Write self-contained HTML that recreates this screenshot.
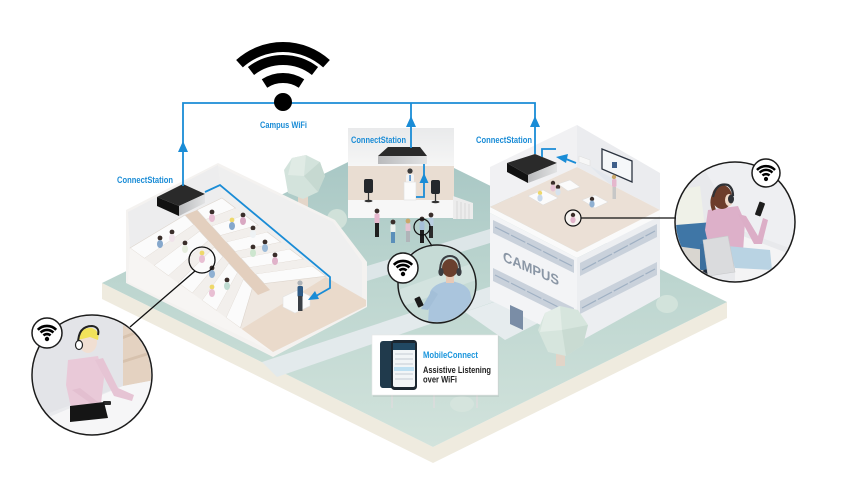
<!DOCTYPE html>
<html><head><meta charset="utf-8">
<style>html,body{margin:0;padding:0;background:#fff;width:850px;height:478px;overflow:hidden}svg{display:block}</style>
</head>
<body>
<svg width="850" height="478" viewBox="0 0 850 478" xmlns="http://www.w3.org/2000/svg" font-family="'Liberation Sans', Arial, sans-serif">
<defs>
 <linearGradient id="plate" gradientUnits="userSpaceOnUse" x1="0" y1="139" x2="0" y2="447">
  <stop offset="0" stop-color="#a5c5c3"/>
  <stop offset="0.45" stop-color="#bcd5cf"/>
  <stop offset="1" stop-color="#d2e3dc"/>
 </linearGradient>
 <linearGradient id="silver" x1="0" y1="0" x2="1" y2="0">
  <stop offset="0" stop-color="#b9babc"/><stop offset="1" stop-color="#e2e3e4"/>
 </linearGradient>
 <linearGradient id="wall" x1="0" y1="0" x2="0" y2="1">
  <stop offset="0" stop-color="#e9eaeb"/><stop offset="1" stop-color="#f6f6f6"/>
 </linearGradient>
 <clipPath id="c1"><circle cx="92" cy="375" r="59"/></clipPath>
 <clipPath id="c2"><circle cx="437" cy="284" r="38"/></clipPath>
 <clipPath id="c3"><circle cx="735" cy="222" r="59"/></clipPath>
</defs>

<!-- ground plate -->
<polygon points="102,283 433,447 727,302 727,318 433,463 102,299" fill="#efebdf"/>
<polygon points="102,283 395,139 727,302 433,447" fill="url(#plate)"/>
<!-- paths -->
<polygon points="262,362 492,286 502,299 277,377" fill="#e3eaec"/>
<polygon points="367,266 490,229 490,243 367,281" fill="#dde6e8"/>
<polygon points="465,312 500,300 540,322 505,340" fill="#e6ecee"/>

<!-- tree 1 -->
<rect x="298" y="194" width="10" height="20" fill="#e4d6c9"/>
<polygon points="284,170 292,158 306,155 320,162 325,176 318,192 303,199 288,193" fill="#d3e3dc"/>
<polygon points="292,158 306,155 304,176 288,175" fill="#e0ebe5"/>
<polygon points="304,176 320,162 325,176 318,192" fill="#c6d9d1"/>
<circle cx="337" cy="219" r="10" fill="#d0e1d9"/>

<!-- STAGE -->
<rect x="348" y="128" width="106" height="39" fill="url(#wall)"/>
<rect x="348" y="166" width="106" height="35" fill="#e9ddd2"/>
<rect x="348" y="200" width="106" height="18" fill="#f7f7f7"/>
<polygon points="453,196 473,203 473,219 453,219" fill="#ececec"/>
<g stroke="#d5d5d5" stroke-width="0.8"><line x1="457" y1="201" x2="457" y2="219"/><line x1="461" y1="202" x2="461" y2="219"/><line x1="465" y1="203" x2="465" y2="219"/><line x1="469" y1="204" x2="469" y2="219"/></g>
<!-- speakers -->
<rect x="364" y="179" width="9" height="14" rx="2" fill="#25282c"/>
<line x1="368.5" y1="193" x2="368.5" y2="200" stroke="#333" stroke-width="1.2"/>
<ellipse cx="368.5" cy="201" rx="4" ry="1.3" fill="#333"/>
<rect x="431" y="180" width="9" height="14" rx="2" fill="#25282c"/>
<line x1="435.5" y1="194" x2="435.5" y2="201" stroke="#333" stroke-width="1.2"/>
<ellipse cx="435.5" cy="202" rx="4" ry="1.3" fill="#333"/>
<!-- podium & speaker -->
<circle cx="410" cy="171" r="2.6" fill="#3a3a3a"/>
<rect x="406" y="174" width="8" height="9" rx="2" fill="#f4f4f4"/>
<rect x="409.4" y="175" width="1.3" height="6" fill="#2b78c2"/>
<rect x="404" y="182" width="12" height="18" fill="#fbfbfb" stroke="#e0e0e0" stroke-width="0.6"/>
<!-- audience -->
<g>
 <circle cx="377" cy="211" r="2.4" fill="#3a2e2a"/><rect x="374.5" y="213.5" width="5" height="10" rx="1.5" fill="#e7b9cf"/><rect x="375" y="223" width="4" height="14" fill="#1e1e1e"/>
 <circle cx="393" cy="222" r="2.4" fill="#3a2e2a"/><rect x="390.5" y="224.5" width="5" height="8" rx="1.5" fill="#eef2ee"/><rect x="391" y="232" width="4" height="11" fill="#5b8fba"/>
 <circle cx="408" cy="221" r="2.4" fill="#c9a76a"/><rect x="405.5" y="223.5" width="5" height="8" rx="1.5" fill="#e5c3d1"/><rect x="406" y="231" width="4" height="11" fill="#b0b4b9"/>
 <circle cx="422" cy="219" r="2.4" fill="#3a2e2a"/><rect x="419.5" y="221.5" width="5" height="9" rx="1.5" fill="#a7c0d8"/><rect x="420" y="230" width="4" height="13" fill="#1e1e1e"/>
 <circle cx="431" cy="215" r="2.4" fill="#3a2e2a"/><rect x="428.5" y="217.5" width="5" height="9" rx="1.5" fill="#b9cee0"/><rect x="429" y="226" width="4" height="12" fill="#2a2a2a"/>
</g>
<circle cx="422" cy="227" r="8" fill="none" stroke="#111" stroke-width="1.2"/>
<line x1="425" y1="235" x2="432" y2="246" stroke="#111" stroke-width="1.2"/>

<!-- LECTURE HALL -->
<polygon points="126,210 218,163 335,220 367,262 367,307 273,357 126,283" fill="#f4f2f0"/>
<polygon points="128,212 218,165 222,198 130,248" fill="#ededee"/>
<polygon points="218,166 333,222 362,262 362,298 335,283 222,198" fill="#efefef"/>
<polygon points="130,248 222,198 335,283 366,300 366,306 273,352 130,282" fill="#efe8e1"/>
<polygon points="185,215 197,210 270,290 258,295" fill="#e3cfbe"/>
<polygon points="240,330 326,277 366,300 366,306 273,352" fill="#eadacb"/>
<g fill="#fbfbfb" stroke="#ddd5cd" stroke-width="0.6">
 <polygon points="130,248 185,215 193.8,224.6 144.4,258.4"/>
 <polygon points="154,265.4 199.6,231 208.4,240.6 168.4,275.8"/>
 <polygon points="178,282.8 214.2,247 223,256.6 192.4,293.2"/>
 <polygon points="202,300.2 228.8,263 237.6,272.6 216.4,310.6"/>
 <polygon points="226,317.6 243.4,279 252.2,288.6 240.4,328"/>
 <polygon points="197,210 222,198 235.6,208.2 205.8,219.6"/>
 <polygon points="211.6,226 244.6,215 258.2,225.2 220.4,235.6"/>
 <polygon points="226.2,242 267.2,232 280.8,242.2 235,251.6"/>
 <polygon points="240.8,258 289.8,249 303.4,259.2 249.6,267.6"/>
 <polygon points="255.4,274 312.4,266 326,276.2 264.2,283.6"/>
</g>
<g fill="#f2efec">
 <polygon points="144.4,258.4 193.8,224.6 199.6,231 154,265.4"/>
 <polygon points="168.4,275.8 208.4,240.6 214.2,247 178,282.8"/>
 <polygon points="192.4,293.2 223,256.6 228.8,263 202,300.2"/>
 <polygon points="216.4,310.6 237.6,272.6 243.4,279 226,317.6"/>
 <polygon points="205.8,219.6 235.6,208.2 244.6,215 211.6,226"/>
 <polygon points="220.4,235.6 258.2,225.2 267.2,232 226.2,242"/>
 <polygon points="235,251.6 280.8,242.2 289.8,249 240.8,258"/>
 <polygon points="249.6,267.6 303.4,259.2 312.4,266 255.4,274"/>
</g>
<polygon points="130,248 250,335 273,352 128,282" fill="#f7f5f3"/>
<!-- hall audience -->
<g>
 <circle cx="160" cy="238" r="2.4" fill="#3a2e2a"/><ellipse cx="160" cy="244" rx="3" ry="4" fill="#86a8cc"/>
 <circle cx="172" cy="232" r="2.4" fill="#3a2e2a"/><ellipse cx="172" cy="238" rx="3" ry="4" fill="#f0e3ea"/>
 <circle cx="185" cy="243" r="2.4" fill="#3a2e2a"/><ellipse cx="185" cy="249" rx="3" ry="4" fill="#e7eedf"/>
 <circle cx="202" cy="253" r="2.4" fill="#eed86a"/><ellipse cx="202" cy="259" rx="3" ry="4" fill="#e8bfd3"/>
 <circle cx="212" cy="268" r="2.4" fill="#3a2e2a"/><ellipse cx="212" cy="274" rx="3" ry="4" fill="#8fb0d2"/>
 <circle cx="227" cy="280" r="2.4" fill="#3a2e2a"/><ellipse cx="227" cy="286" rx="3" ry="4" fill="#bfdcd2"/>
 <circle cx="212" cy="287" r="2.4" fill="#eed86a"/><ellipse cx="212" cy="293" rx="3" ry="4" fill="#e8bfd3"/>
 <circle cx="212" cy="212" r="2.4" fill="#3a2e2a"/><ellipse cx="212" cy="218" rx="3" ry="4" fill="#e8bfd3"/>
 <circle cx="232" cy="220" r="2.4" fill="#eed86a"/><ellipse cx="232" cy="226" rx="3" ry="4" fill="#86a8cc"/>
 <circle cx="243" cy="215" r="2.4" fill="#3a2e2a"/><ellipse cx="243" cy="221" rx="3" ry="4" fill="#d9a8c2"/>
 <circle cx="253" cy="228" r="2.4" fill="#3a2e2a"/><ellipse cx="253" cy="234" rx="3" ry="4" fill="#eef2f4"/>
 <circle cx="265" cy="242" r="2.4" fill="#3a2e2a"/><ellipse cx="265" cy="248" rx="3" ry="4" fill="#9dbbd8"/>
 <circle cx="253" cy="247" r="2.4" fill="#3a2e2a"/><ellipse cx="253" cy="253" rx="3" ry="4" fill="#cde6cf"/>
 <circle cx="275" cy="255" r="2.4" fill="#3a2e2a"/><ellipse cx="275" cy="261" rx="3" ry="4" fill="#e0b2c9"/>
</g>
<!-- podium & lecturer -->
<polygon points="283,297 298,290 310,296 310,306 295,313 283,307" fill="#fbfbfb" stroke="#e2e2e2" stroke-width="0.6"/>
<circle cx="300" cy="283" r="2.6" fill="#aeb3b8"/>
<rect x="297.5" y="286" width="5.5" height="11" rx="1.5" fill="#2f5b86"/>
<rect x="298" y="296" width="4.5" height="15" fill="#3a3f45"/>
<circle cx="202" cy="260" r="13" fill="none" stroke="#111" stroke-width="1.3"/>
<line x1="195" y1="271" x2="130" y2="327" stroke="#111" stroke-width="1.3"/>

<!-- CAMPUS BUILDING -->
<polygon points="490,167 577,125 577,167 490,207" fill="#f1f1f3"/>
<polygon points="577,125 660,173 660,210 577,167" fill="#ebecef"/>
<polygon points="490,207 577,167 660,210 577,252" fill="#ebe0d6"/>
<polygon points="490,207 577,252 660,210 660,216 577,258 490,213" fill="#fafafa"/>
<polygon points="490,213 577,258 577,343 490,300" fill="#f3f4f6"/>
<polygon points="577,258 660,216 660,297 577,343" fill="#eceef1"/>
<g fill="#c9d1db">
 <polygon points="493,220 574,260 574,273 493,233"/>
 <polygon points="493,268 574,308 574,321 493,281"/>
 <polygon points="580,263 657,224 657,237 580,276"/>
 <polygon points="580,301 657,262 657,275 580,314"/>
</g>
<g stroke="#9fb0c3" stroke-width="1.2">
 <line x1="495" y1="227" x2="572" y2="266" stroke-dasharray="16,2"/>
 <line x1="495" y1="275" x2="572" y2="314" stroke-dasharray="16,2"/>
 <line x1="582" y1="270" x2="655" y2="231" stroke-dasharray="16,2"/>
 <line x1="582" y1="308" x2="655" y2="269" stroke-dasharray="16,2"/>
</g>
<text transform="matrix(1,0.44,0,1,503,261)" font-size="14" font-weight="bold" fill="#8a96a5" textLength="56" lengthAdjust="spacingAndGlyphs">CAMPUS</text>
<polygon points="510,305 523,311 523,330 510,324" fill="#7a8da6"/>
<!-- screen -->
<polygon points="602,149 632,161 632,182 602,169" fill="#f5f7f9" stroke="#2c3440" stroke-width="1.3"/>
<rect x="612" y="162" width="5" height="6" fill="#3f5f8a"/>
<polygon points="579,156 590,160 590,166 579,162" fill="#f7f7f7" stroke="#ddd" stroke-width="0.5"/>
<polygon points="590,166 612,178 612,186 596,172" fill="#dfe6ec" opacity="0.7"/>
<!-- tables & people in campus -->
<g fill="#fbfbfb" stroke="#ddd" stroke-width="0.5">
 <polygon points="558,184 570,180 580,187 568,191"/>
 <polygon points="528,196 543,190 558,198 543,205"/>
 <polygon points="582,200 595,195 608,202 595,208"/>
</g>
<g>
 <circle cx="553" cy="183" r="2.2" fill="#3a2e2a"/><ellipse cx="553" cy="188" rx="2.6" ry="3.5" fill="#e7c3d5"/>
 <circle cx="558" cy="187" r="2.2" fill="#3a2e2a"/><ellipse cx="558" cy="192" rx="2.6" ry="3.5" fill="#d6e2ee"/>
 <circle cx="540" cy="193" r="2.2" fill="#eed86a"/><ellipse cx="540" cy="198" rx="2.6" ry="3.5" fill="#c7d8ea"/>
 <circle cx="592" cy="199" r="2.2" fill="#3a2e2a"/><ellipse cx="592" cy="204" rx="2.6" ry="3.5" fill="#8fb0d2"/>
 <circle cx="614" cy="177" r="2.2" fill="#c9a76a"/><rect x="612" y="179" width="4.5" height="8" rx="1.5" fill="#e5b7cd"/><rect x="612.5" y="187" width="3.5" height="12" fill="#c7c7c7"/>
</g>
<circle cx="573" cy="218" r="8" fill="#f6f3f0" stroke="#111" stroke-width="1.2"/>
<circle cx="573" cy="215" r="2.2" fill="#3a2e2a"/><ellipse cx="573" cy="220" rx="2.6" ry="3.2" fill="#e2b4cb"/>
<line x1="581" y1="218" x2="676" y2="218" stroke="#111" stroke-width="1.3"/>

<!-- tree 2 and bushes -->
<rect x="556" y="350" width="9" height="16" fill="#e2d4c7"/>
<polygon points="538,330 545,313 560,306 578,310 588,325 583,345 566,356 548,352" fill="#d6e5dd"/>
<polygon points="545,313 560,306 562,330 540,332" fill="#e3ede7"/>
<polygon points="562,330 588,325 583,345 566,356" fill="#c9dbd2"/>
<ellipse cx="667" cy="304" rx="11" ry="9" fill="#d2e3db"/>
<ellipse cx="462" cy="404" rx="12" ry="8" fill="#d5e4dd"/>

<!-- SIGN -->
<line x1="392" y1="395" x2="392" y2="408" stroke="#dcdcdc" stroke-width="1.6"/>
<line x1="434" y1="395" x2="434" y2="408" stroke="#dcdcdc" stroke-width="1.6"/>
<line x1="477" y1="395" x2="477" y2="408" stroke="#dcdcdc" stroke-width="1.6"/>
<rect x="373" y="336" width="126" height="61" fill="#000" opacity="0.06"/>
<rect x="372" y="335" width="126" height="60" fill="#fff" stroke="#e6e6e6" stroke-width="0.6"/>
<rect x="380" y="341" width="18" height="47" rx="3" fill="#203a4c"/>
<rect x="391" y="340" width="26" height="50" rx="3.5" fill="#1b2630"/>
<rect x="393" y="343" width="22" height="44" rx="2" fill="#f2f5f7"/>
<rect x="393" y="343" width="22" height="7" fill="#214862"/>
<g stroke="#c4ccd3" stroke-width="1"><line x1="395" y1="354" x2="413" y2="354"/><line x1="395" y1="359" x2="413" y2="359"/><line x1="395" y1="364" x2="413" y2="364"/><line x1="395" y1="374" x2="413" y2="374"/><line x1="395" y1="379" x2="413" y2="379"/></g>
<rect x="394" y="367" width="20" height="4" fill="#bfe0f2"/>
<text x="423" y="358" font-size="9.5" font-weight="bold" fill="#1a95dc" textLength="55" lengthAdjust="spacingAndGlyphs">MobileConnect</text>
<text x="423" y="373" font-size="9.5" font-weight="bold" fill="#222" textLength="68" lengthAdjust="spacingAndGlyphs">Assistive Listening</text>
<text x="423" y="382.5" font-size="9.5" font-weight="bold" fill="#222" textLength="34" lengthAdjust="spacingAndGlyphs">over WiFi</text>

<!-- CONNECTSTATION BOXES -->
<polygon points="157,197 183,184 205,194 179,206" fill="#2a2a2a"/>
<polygon points="157,197 179,206 179,216 157,206" fill="#111"/>
<polygon points="179,206 205,194 205,203 179,216" fill="url(#silver)"/>
<polygon points="378,156 388,147 420,147 427,156" fill="#2a2a2a"/>
<rect x="378" y="156" width="49" height="8" fill="url(#silver)"/>
<polygon points="507,163 535,154 557,163 528,175" fill="#2a2a2a"/>
<polygon points="507,163 528,175 528,183 507,172" fill="#111"/>
<polygon points="528,175 557,163 557,172 528,183" fill="url(#silver)"/>

<!-- BLUE NETWORK LINES -->
<g stroke="#1a8cd6" stroke-width="1.8" fill="none">
 <polyline points="183,186 183,103 535,103 535,154"/>
 <line x1="411" y1="103" x2="411" y2="148"/>
 <polyline points="205,192 220,185 330,277 330,288 316,296"/>
 <polyline points="416,197 424,197 424,164"/>
 <polyline points="542,157 542,149 556,149"/>
 <line x1="566" y1="159" x2="576" y2="163"/>
</g>
<g fill="#1a8cd6">
 <polygon points="183,141 178,152 188,152"/>
 <polygon points="411,116 406,127 416,127"/>
 <polygon points="535,116 530,127 540,127"/>
 <polygon points="424,173 419.5,183 428.5,183"/>
 <polygon points="308,300 319,299 315,291"/>
 <polygon points="556,157 568,154 566,163"/>
</g>
<g font-size="9" font-weight="bold" fill="#1a8cd6">
 <text x="260" y="128" textLength="47" lengthAdjust="spacingAndGlyphs">Campus WiFi</text>
 <text x="117" y="183" textLength="56" lengthAdjust="spacingAndGlyphs">ConnectStation</text>
 <text x="351" y="143" textLength="55" lengthAdjust="spacingAndGlyphs">ConnectStation</text>
 <text x="476" y="143" textLength="56" lengthAdjust="spacingAndGlyphs">ConnectStation</text>
</g>

<!-- BIG WIFI -->
<g fill="none" stroke="#000" stroke-width="10">
 <path d="M239.5,63.7 A65,65 0 0 1 326.5,63.7"/>
 <path d="M251,71 A52,52 0 0 1 315,71"/>
 <path d="M264.5,83.5 A34,34 0 0 1 301.5,83.5"/>
</g>
<circle cx="283" cy="102" r="9" fill="#000"/>

<!-- LEFT CIRCLE -->
<g clip-path="url(#c1)">
 <rect x="30" y="314" width="125" height="125" fill="#e9eaed"/>
 <polygon points="30,314 123,314 123,386 30,420" fill="#e3e4e8"/>
 <polygon points="123,322 155,308 155,380 123,386" fill="#e4d2c1"/>
 <polygon points="123,336 155,324 155,327 123,339" fill="#d7c2ae"/>
 <polygon points="123,360 155,350 155,353 123,363" fill="#d7c2ae"/>
 <polygon points="30,425 123,386 155,380 155,440 30,440" fill="#f6f6f7"/>
 <polygon points="68,360 98,356 104,378 100,412 72,412 66,385" fill="#e9c9d8"/>
 <polygon points="95,360 103,358 118,388 134,395 132,401 114,396" fill="#e6c4d4"/>
 <polygon points="72,390 80,388 98,402 96,407" fill="#e3bfd0"/>
 <rect x="103" y="401" width="8" height="4" rx="1" fill="#2b2b2b"/>
 <polygon points="70,406 104,402 108,418 70,422" fill="#151515"/>
 <ellipse cx="88" cy="342" rx="9" ry="11" fill="#f1dfd2"/>
 <path d="M78,340 Q80,327 92,328 Q100,331 98,340 L90,337 Z" fill="#f1e25a"/>
 <path d="M78,344 Q78,326 92,326 Q100,327 98,335" fill="none" stroke="#222" stroke-width="2"/>
 <ellipse cx="79" cy="345" rx="3.5" ry="4.5" fill="#fff" stroke="#222" stroke-width="1.2"/>
</g>
<circle cx="92" cy="375" r="60" fill="none" stroke="#1c1c1c" stroke-width="1.5"/>

<!-- MIDDLE CIRCLE -->
<g clip-path="url(#c2)">
 <rect x="398" y="245" width="78" height="78" fill="#c6dbd6"/>
 <polygon points="398,290 476,262 476,280 398,308" fill="#d3e3df"/>
 <path d="M428,323 L430,292 Q434,283 450,281 Q466,283 470,292 L476,323 Z" fill="#aac5dd"/>
 <polygon points="432,290 438,294 428,310 421,309" fill="#a3bfd8"/>
 <rect x="416" y="297" width="6" height="10" rx="1" transform="rotate(-25 419 302)" fill="#1b1b1b"/>
 <rect x="446" y="274" width="8" height="9" fill="#e8c9b6"/>
 <ellipse cx="450" cy="268" rx="8" ry="9" fill="#6a3f2e"/>
 <path d="M440,272 Q440,256 450,256 Q460,256 460,272" fill="none" stroke="#3a3d42" stroke-width="2"/>
 <ellipse cx="441" cy="272" rx="2.6" ry="4" fill="#3a3d42"/>
 <ellipse cx="459" cy="272" rx="2.6" ry="4" fill="#3a3d42"/>
</g>
<circle cx="437" cy="284" r="39" fill="none" stroke="#1c1c1c" stroke-width="1.5"/>

<!-- RIGHT CIRCLE -->
<g clip-path="url(#c3)">
 <rect x="675" y="162" width="120" height="122" fill="#e8e9ec"/>
 <polygon points="700,162 795,162 795,250 740,230" fill="#eeeff2"/>
 <polygon points="735,233 795,256 795,284 735,284" fill="#f4f4f5"/>
 <polygon points="675,250 700,240 710,284 675,284" fill="#d9d6d0"/>
 <polygon points="677,190 700,186 705,228 677,232" fill="#eff1e8"/>
 <polygon points="676,225 713,222 716,246 705,250 676,246" fill="#3f76a6"/>
 <rect x="700" y="244" width="10" height="26" fill="#3b6f9e"/>
 <ellipse cx="707" cy="272" rx="5" ry="2.5" fill="#1f2a3a"/>
 <polygon points="708,210 738,206 745,222 743,252 710,252 705,230" fill="#ddb0c9"/>
 <polygon points="738,214 746,216 758,236 763,218 768,220 762,244 754,244" fill="#dcaec7"/>
 <rect x="757" y="202" width="6" height="14" rx="1" transform="rotate(20 760 209)" fill="#1d1d1d"/>
 <polygon points="727,246 770,250 772,270 735,268" fill="#b9d3e3"/>
 <polygon points="703,240 728,236 735,272 708,276" fill="#dadbdd" stroke="#c8c9cb" stroke-width="0.6"/>
 <ellipse cx="722" cy="197" rx="10" ry="12" fill="#6d3d2b"/>
 <path d="M714,210 Q710,200 716,192" fill="none" stroke="#6d3d2b" stroke-width="4"/>
 <ellipse cx="729" cy="200" rx="4" ry="6" fill="#f0d9c8"/>
 <path d="M713,197 Q716,182 728,185 Q733,188 733,196" fill="none" stroke="#2f3237" stroke-width="2.2"/>
 <ellipse cx="731" cy="199" rx="3" ry="4.5" fill="#2f3237"/>
</g>
<circle cx="735" cy="222" r="60" fill="none" stroke="#1c1c1c" stroke-width="1.5"/>

<!-- WIFI BADGES -->
<g transform="translate(47,333)">
 <circle r="15" fill="#fff" stroke="#1c1c1c" stroke-width="1.5"/>
 <g fill="none" stroke="#000" stroke-width="2.6"><path d="M-3.5,2.5 A5,5 0 0 1 3.5,2.5"/><path d="M-6.4,-0.4 A9,9 0 0 1 6.4,-0.4"/><path d="M-9.2,-3.2 A13,13 0 0 1 9.2,-3.2"/></g>
 <circle cy="6" r="2.2" fill="#000"/>
</g>
<g transform="translate(403,268)">
 <circle r="15" fill="#fff" stroke="#1c1c1c" stroke-width="1.5"/>
 <g fill="none" stroke="#000" stroke-width="2.6"><path d="M-3.5,2.5 A5,5 0 0 1 3.5,2.5"/><path d="M-6.4,-0.4 A9,9 0 0 1 6.4,-0.4"/><path d="M-9.2,-3.2 A13,13 0 0 1 9.2,-3.2"/></g>
 <circle cy="6" r="2.2" fill="#000"/>
</g>
<g transform="translate(766,173)">
 <circle r="14" fill="#fff" stroke="#1c1c1c" stroke-width="1.5"/>
 <g fill="none" stroke="#000" stroke-width="2.5"><path d="M-3.5,2.5 A5,5 0 0 1 3.5,2.5"/><path d="M-6.4,-0.4 A9,9 0 0 1 6.4,-0.4"/><path d="M-9,-3 A12.5,12.5 0 0 1 9,-3"/></g>
 <circle cy="6" r="2.1" fill="#000"/>
</g>
</svg>
</body>
</html>
